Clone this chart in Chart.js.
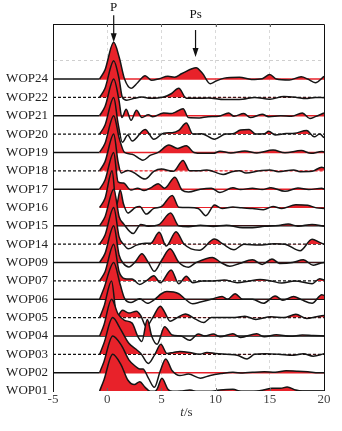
<!DOCTYPE html>
<html lang="en">
  <head>
    <meta charset="UTF-8" />
    <title>WOP receiver functions</title>
    <script src="https://cdn.jsdelivr.net/npm/chart.js"></script>
    <style>
      body {
        margin: 0;
        background: #fff;
      }
      canvas {
        display: block;
      }
    </style>
  </head>
  <body>
    <canvas id="rfChart" width="342" height="431"></canvas>

    <script>
      // station names, bottom to top
      const rowNames = [
        "WOP01", "WOP02", "WOP03", "WOP04", "WOP05", "WOP06",
        "WOP07", "WOP09", "WOP14", "WOP15", "WOP16", "WOP17",
        "WOP18", "WOP19", "WOP20", "WOP21", "WOP22", "WOP24",
      ];

      // traces: [time (s), amplitude]
      const wop01 = [[-0.7,0],[-0.3,0.6],[0.5,2.0],[1.3,1.4],[1.9,0.6],[2.5,0.35],[3.0,0.5],[3.5,0.2],[4.2,-0.1],[4.6,0.1],[5.05,0.7],[5.6,0.1],[6.2,-0.05],[7.0,0],[7.6,0.05],[8.6,-0.1],[9.5,-0.05],[10.4,0.05],[11.6,0.1],[12.4,-0.03],[13.5,-0.03],[14.4,0.05],[15.2,0.15],[16.0,0.15],[16.6,0.22],[17.4,0.05],[18.0,0],[20,0]];
      const wop02 = [[-0.7,0],[-0.3,0.6],[0.5,2.0],[1.3,1.5],[2.0,0.7],[2.6,0.35],[3.0,0.2],[3.3,0.2],[3.8,-0.3],[4.35,-0.8],[4.9,0.1],[5.4,0.75],[6.0,0.1],[6.7,-0.16],[7.5,-0.08],[8.6,-0.3],[9.5,-0.15],[10.5,-0.05],[11.6,0.02],[12.5,-0.02],[13.4,0.02],[14.5,0.05],[15.5,0.02],[16.5,0.1],[17.6,0.08],[18.5,0.05],[19.5,0],[20,0]];
      const wop03 = [[-0.7,0],[-0.3,0.6],[0.5,2.0],[1.2,1.4],[2.0,0.6],[2.6,0.3],[3.1,0.05],[3.8,-0.5],[4.4,0],[4.95,0.55],[5.5,0.05],[6.1,0.1],[6.7,0.15],[7.6,0.1],[8.5,0],[9.2,0.1],[10.0,0.05],[11.0,0],[12.0,-0.05],[12.9,-0.25],[13.6,0],[14.6,0.03],[15.8,0],[17.2,-0.05],[18.1,0.03],[19.0,-0.1],[20,0.03]];
      const wop04 = [[-0.7,0],[-0.3,0.6],[0.4,2.0],[1.0,1.2],[1.6,0.85],[2.3,0.7],[2.8,0],[3.2,-0.3],[3.7,0.9],[4.1,0],[4.6,-0.45],[5.3,0.5],[6.0,0.05],[6.8,0],[7.6,-0.24],[8.4,0.1],[9.0,0],[9.8,0.1],[10.4,-0.05],[11.6,0.12],[12.3,-0.08],[13.8,0.12],[14.5,-0.05],[15.6,0.07],[16.9,-0.02],[18.0,0.05],[19.0,0.02],[20,0]];
      const wop05 = [[-0.7,0],[-0.3,0.6],[0.4,2.0],[0.9,0.05],[1.4,0.4],[2.0,0.25],[2.7,0.35],[3.1,0.1],[3.6,-0.5],[4.2,0],[4.9,0.62],[5.3,0.3],[5.8,-0.2],[6.4,-0.02],[7.2,0.2],[8.2,-0.1],[8.9,-0.27],[9.6,0],[10.8,0],[12.0,0.02],[12.7,0.08],[13.7,-0.1],[15.1,0.05],[16.3,0],[17.4,0.18],[18.4,-0.05],[19.3,0.05],[20,0.12]];
      const wop06 = [[-0.7,0],[-0.3,0.6],[0.6,2.0],[1.2,0.8],[1.6,0.05],[2.2,-0.18],[3.0,0.03],[3.7,-0.22],[4.4,0],[5.0,0.3],[5.5,0.42],[6.6,0.3],[7.2,0],[7.9,-0.25],[8.6,-0.15],[9.6,0],[10.6,0.15],[11.1,0],[11.8,0.3],[12.5,0],[13.4,0],[14.4,-0.22],[15.5,0.18],[16.2,-0.05],[17.2,0.15],[17.9,-0.02],[18.9,-0.22],[19.8,0.25],[20,0.2]];
      const wop07 = [[-0.7,0],[-0.2,0.5],[0.6,2.0],[1.1,0.5],[1.65,0.12],[2.3,0.1],[3.0,-0.2],[3.6,0],[4.3,0.28],[4.9,-0.1],[5.9,0.6],[6.6,-0.15],[7.3,0.25],[7.9,-0.1],[8.8,0],[9.8,0],[10.8,0.05],[12.0,-0.1],[13.0,-0.02],[14.1,0.08],[15.1,0],[16.1,-0.12],[17.3,0],[18.9,-0.15],[19.6,0.12],[20,0.05]];
      const wop09 = [[-0.7,0],[-0.2,0.5],[0.6,2.0],[1.1,0.4],[1.5,-0.05],[2.0,-0.24],[2.6,0.05],[3.2,0.48],[3.8,0],[4.35,-0.48],[5.0,0.1],[5.8,0.75],[6.6,0.02],[7.5,-0.25],[8.2,0],[9.7,0.28],[10.5,0],[11.3,-0.2],[12.2,-0.05],[13.4,0.15],[14.3,-0.1],[15.2,0.2],[15.9,-0.05],[17.1,0],[18.1,0.15],[19.0,-0.15],[19.6,-0.05],[20,0]];
      const wop14 = [[-0.7,0],[-0.2,0.5],[0.6,2.0],[1.1,0.4],[1.5,0],[1.95,-0.25],[2.7,-0.05],[3.5,0.05],[4.0,0.05],[4.8,0.65],[5.45,-0.1],[6.35,0.68],[7.1,0],[8.5,-0.33],[9.9,0.28],[10.7,0],[11.7,-0.3],[12.6,0],[14.0,-0.05],[15.4,0.03],[16.4,0],[17.8,-0.36],[18.9,0.27],[19.6,0.1],[20,0]];
      const wop15 = [[-0.7,0],[-0.2,0.5],[0.6,2.0],[1.1,0.5],[1.5,0.12],[2.4,-0.42],[3.1,0.08],[3.8,-0.02],[4.8,0.08],[5.85,0.7],[6.6,0],[7.5,-0.05],[8.6,0.03],[9.8,-0.03],[11.0,0.03],[12.5,-0.1],[13.4,-0.1],[14.5,-0.02],[15.8,0.02],[16.7,0.1],[17.6,-0.02],[18.9,0.08],[20,-0.02]];
      const wop16 = [[-0.7,0],[-0.2,0.5],[0.45,2.0],[0.85,0.1],[1.2,0.95],[1.5,0.2],[1.9,-0.3],[2.6,0],[3.0,0.05],[3.6,-0.36],[4.3,-0.05],[5.0,0.05],[6.0,0.65],[6.6,0.02],[7.5,0],[8.4,-0.05],[9.1,-0.45],[9.9,0.13],[10.6,-0.05],[11.6,0.03],[12.4,-0.02],[13.4,-0.05],[14.4,-0.12],[15.3,0.05],[16.1,-0.05],[17.4,0.15],[18.5,0.12],[19.3,-0.02],[20,-0.05]];
      const wop17 = [[-0.7,0],[-0.2,0.5],[0.6,2.0],[1.0,0.4],[1.5,0.33],[2.2,-0.05],[2.8,0.05],[3.4,-0.08],[4.1,0.1],[4.7,0.3],[5.3,0.05],[6.25,0.65],[6.9,-0.05],[7.5,-0.15],[8.6,0],[9.6,0.05],[10.4,-0.18],[11.6,0.08],[12.3,-0.02],[13.4,0.05],[14.3,-0.02],[15.1,0.08],[16.4,-0.12],[17.6,0.06],[18.6,-0.02],[19.8,0.05],[20,0]];
      const wop18 = [[-0.7,0],[-0.2,0.5],[0.6,2.0],[1.0,0.5],[1.3,-0.12],[1.9,0.02],[2.4,-0.08],[3.5,-0.45],[4.3,-0.03],[5.0,0.1],[6.1,-0.03],[7.0,0.56],[7.6,0],[8.6,0],[9.2,0.05],[10.7,-0.2],[11.5,-0.05],[12.2,0],[12.8,-0.12],[14.1,0],[15.0,0.05],[15.8,-0.05],[17.2,0.05],[17.8,-0.05],[18.9,-0.03],[19.8,0.2],[20,0.15]];
      const wop19 = [[-0.7,0],[-0.2,0.5],[0.6,2.0],[1.1,0.8],[1.6,0],[2.3,-0.1],[3.3,-0.42],[4.0,-0.15],[4.7,0],[5.7,0.4],[6.5,0.22],[7.3,0.37],[8.0,0],[8.8,-0.05],[9.8,-0.05],[10.4,0.07],[11.4,-0.03],[12.7,0.08],[13.8,-0.03],[15.3,0.13],[16.4,-0.02],[17.9,0.1],[18.8,-0.05],[19.8,0.05],[20,0.03]];
      const wop20 = [[-0.7,0],[-0.2,0.5],[0.6,2.0],[1.0,0.6],[1.4,-0.45],[1.9,-0.05],[2.3,-0.38],[3.5,0.25],[4.3,-0.28],[5.2,0.05],[6.0,0.08],[6.6,0.2],[7.3,0.6],[7.9,0],[8.7,0.02],[9.9,-0.28],[10.9,0],[11.6,0.02],[12.3,0.22],[13.1,0.25],[13.7,0],[14.5,0.02],[14.9,0.15],[15.5,-0.05],[16.5,0.03],[17.3,0.05],[18.4,0.2],[19.1,-0.15],[19.6,0],[20,-0.2]];
      const wop21 = [[-0.7,0],[-0.2,0.5],[0.6,2.0],[1.1,0.8],[1.35,-0.1],[1.75,0.35],[2.2,-0.25],[2.7,0.3],[3.2,-0.1],[3.8,0.05],[4.2,-0.05],[5.2,0.15],[5.9,0.12],[6.3,0.2],[7.0,0.38],[7.5,-0.1],[8.5,-0.12],[9.3,-0.05],[10.3,-0.03],[11.2,0.15],[11.7,-0.03],[12.6,0.12],[13.2,-0.1],[14.3,0.08],[14.9,-0.05],[16.0,0],[17.0,-0.03],[18.0,0.15],[18.7,-0.15],[19.2,-0.05],[20,0.15]];
      const wop22 = [[-0.7,0],[-0.2,0.5],[0.6,2.0],[1.1,1.0],[1.4,0],[1.8,-0.15],[2.5,-0.05],[3.2,0.02],[4.0,-0.05],[5.2,0.02],[5.9,0.2],[6.6,0.5],[7.3,-0.05],[8.5,-0.05],[9.3,-0.03],[10.8,-0.12],[12.5,-0.1],[13.6,0],[15.0,-0.1],[16.3,0.05],[17.5,0],[18.3,-0.06],[19.2,0],[20,-0.02]];
      const wop24 = [[-0.7,0],[-0.2,0.5],[0.6,2.0],[1.1,1.2],[1.6,0],[2.2,-0.5],[2.8,-0.2],[3.5,0.18],[4.1,-0.07],[4.8,0.02],[5.6,0.15],[6.2,0.1],[6.9,0.3],[8.2,0.62],[8.8,0.3],[9.5,-0.25],[10.0,-0.12],[10.8,0.05],[12.2,0.1],[13.3,-0.02],[14.3,0.02],[15.0,0.25],[15.6,0],[16.8,-0.05],[17.9,0.12],[18.5,0],[19.2,-0.2],[20,0.15]];

      const traces = [
        wop01, wop02, wop03, wop04, wop05, wop06, wop07, wop09, wop14,
        wop15, wop16, wop17, wop18, wop19, wop20, wop21, wop22, wop24,
      ];

      // baseline look per row (bottom to top)
      const baseDash = ["none","solid","dash","solid","dash","solid","dash","solid","dash","solid","none","solid","dash","solid","dash","solid","dash","solid"];
      const baseRed = [false,true,false,false,false,false,false,false,false,false,true,true,true,true,false,true,false,true];

      // P and Ps markers
      const markLabels = ["P", "Ps"];
      const markTimes = [0.6, 8.15];
      const markTips = [19.0, 18.2];

      const xTicks = [-5, 0, 5, 10, 15, 20];

      const RED = "#e8222a";
      const serif = "'Liberation Serif', 'Times New Roman', serif";

      const datasets = [];
      traces.forEach((tr, i) => {
        datasets.push({
          data: tr.map((p) => ({ x: p[0], y: i + p[1] })),
          borderColor: "#151515",
          borderWidth: 1.5,
          pointRadius: 0,
          cubicInterpolationMode: "monotone",
          fill: { target: { value: i }, above: RED, below: "rgba(0,0,0,0)" },
          order: 1,
        });
      });
      traces.forEach((tr, i) => {
        const onset = tr[0][0];
        const leftCol = baseDash[i] === "none" ? "rgba(0,0,0,0)" : "#111";
        const rightCol = baseRed[i] ? RED : "#111";
        datasets.push({
          data: [
            { x: xTicks[0], y: i },
            { x: onset, y: i },
            { x: xTicks[xTicks.length - 1], y: i },
          ],
          borderWidth: baseDash[i] === "solid" ? 1.5 : 1.2,
          borderDash: baseDash[i] === "dash" ? [3, 2] : [],
          pointRadius: 0,
          fill: false,
          segment: {
            borderColor: (ctx) => (ctx.p0DataIndex === 0 ? leftCol : rightCol),
          },
          order: 2,
        });
      });

      const decorations = {
        id: "decorations",
        afterDraw(chart) {
          const { ctx, chartArea: a, scales } = chart;
          const x = scales.x;
          const y = scales.y;
          ctx.save();
          // top and right frame
          ctx.strokeStyle = "#111";
          ctx.lineWidth = 1;
          ctx.beginPath();
          ctx.moveTo(a.left, a.top + 0.5);
          ctx.lineTo(a.right + 0.5, a.top + 0.5);
          ctx.lineTo(a.right + 0.5, a.bottom);
          ctx.stroke();
          // small inward ticks
          ctx.strokeStyle = "#666";
          xTicks.slice(1, -1).forEach((t) => {
            const px = Math.round(x.getPixelForValue(t)) + 0.5;
            ctx.beginPath();
            ctx.moveTo(px, a.top);
            ctx.lineTo(px, a.top + 3);
            ctx.moveTo(px, a.bottom);
            ctx.lineTo(px, a.bottom - 3);
            ctx.stroke();
          });
          // arrows
          ctx.fillStyle = "#111";
          ctx.strokeStyle = "#111";
          ctx.lineWidth = 1.2;
          ctx.font = "13px " + serif;
          ctx.textAlign = "center";
          ctx.textBaseline = "bottom";
          markLabels.forEach((lab, i) => {
            const px = x.getPixelForValue(markTimes[i]);
            const tip = y.getPixelForValue(markTips[i]);
            const tail = tip - 27;
            ctx.beginPath();
            ctx.moveTo(px, tail);
            ctx.lineTo(px, tip - 6);
            ctx.stroke();
            ctx.beginPath();
            ctx.moveTo(px, tip);
            ctx.lineTo(px - 3, tip - 9);
            ctx.lineTo(px + 3, tip - 9);
            ctx.closePath();
            ctx.fill();
            ctx.fillText(lab, px, tail - (i === 0 ? 1 : 9));
          });
          // axis title t/s
          const cx = (a.left + a.right) / 2 - 2;
          const ty = a.bottom + 22;
          ctx.fillStyle = "#333";
          ctx.textBaseline = "middle";
          ctx.textAlign = "left";
          ctx.font = "italic 13px " + serif;
          const wT = ctx.measureText("t").width;
          ctx.font = "13px " + serif;
          const wS = ctx.measureText("/s").width;
          const x0 = cx - (wT + wS) / 2;
          ctx.font = "italic 13px " + serif;
          ctx.fillText("t", x0, ty);
          ctx.font = "13px " + serif;
          ctx.fillText("/s", x0 + wT, ty);
          ctx.restore();
        },
      };

      new Chart(document.getElementById("rfChart"), {
        type: "line",
        data: { datasets },
        options: {
          responsive: false,
          animation: false,
          events: [],
          layout: { padding: { top: 24, right: 18, bottom: 20, left: 0 } },
          plugins: {
            legend: { display: false },
            tooltip: { enabled: false },
          },
          scales: {
            x: {
              type: "linear",
              min: -5,
              max: 20,
              z: 1,
              afterFit: (s) => {
                s.height = 20;
              },
              afterBuildTicks: (s) => {
                s.ticks = xTicks.map((v) => ({ value: v }));
              },
              border: { display: false, dash: [3, 3] },
              grid: {
                drawTicks: false,
                lineWidth: 1,
                color: (c) =>
                  c.tick && c.tick.value > -5 && c.tick.value < 20
                    ? "rgba(215,215,215,0.95)"
                    : "rgba(0,0,0,0)",
              },
              ticks: {
                color: "#444",
                padding: 1,
                maxRotation: 0,
                font: { family: serif, size: 13 },
              },
            },
            y: {
              type: "linear",
              min: 0,
              max: 20,
              afterFit: (s) => {
                s.width = 53;
              },
              border: { display: true, color: "#111", width: 1, dash: [3, 3] },
              grid: {
                drawTicks: false,
                color: (c) =>
                  c.tick && c.tick.value === 18 ? "#cfcfcf" : "rgba(0,0,0,0)",
              },
              ticks: {
                stepSize: 1,
                autoSkip: false,
                padding: 5,
                color: "#222",
                font: { family: serif, size: 13 },
                callback: (v) => rowNames[v] || "",
              },
            },
          },
        },
        plugins: [decorations],
      });
    </script>
  </body>
</html>
